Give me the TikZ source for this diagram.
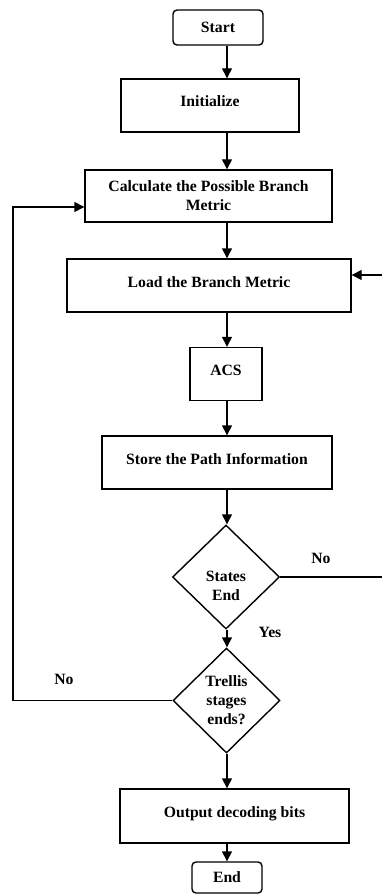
\documentclass[tikz,border=0pt]{standalone}
\usepackage{fontspec}
\setmainfont{Liberation Serif}
\usetikzlibrary{arrows.meta,shapes.geometric}

\begin{document}
\begin{tikzpicture}[x=1pt, y=-1pt, line width=1.4pt,
    every node/.style={font=\fontsize{15.7}{19}\selectfont\bfseries, inner sep=0pt},
    procbox/.style={draw, rectangle, minimum height=53pt, text height=28pt, text depth=25pt},
    termbox/.style={draw, rectangle, rounded corners=4pt},
    decbox/.style={draw, diamond, aspect=1, minimum width=107pt, minimum height=104pt, align=center},
    arr/.style={-{Triangle[length=10pt,width=10pt]}}]
\useasboundingbox (0,0) rectangle (382,896);
\clip (0,0) rectangle (382,896);
\node[termbox, minimum width=90pt, minimum height=35pt] (start) at (218,27.5) {Start};
\node[procbox, minimum width=178pt] (init) at (210,105.5) {Initialize};
\node[draw, minimum width=247pt, minimum height=52pt, align=center] (calc) at (208.5,196) {Calculate the Possible Branch\\Metric};
\node[procbox, minimum width=284pt] (load) at (209,285.5) {Load the Branch Metric};
\node[procbox, minimum width=72pt] (acs) at (226,374) {ACS};
\node[procbox, minimum width=230pt] (store) at (217,462.5) {Store the Path Information};
\node[decbox] (states) at (226,577) {\rule{0pt}{28pt}States\\End};
\node[decbox, minimum height=105pt] (trellis) at (226.5,700.5) {Trellis\\stages\\ends?};
\node[procbox, minimum width=229pt, minimum height=54pt] (output) at (234.5,816) {Output decoding bits};
\node[termbox, minimum width=70pt, minimum height=31pt] (stop) at (227,877.5) {End};
\coordinate (ax) at (227,0);
\foreach \a/\b in {start/init, init/calc, calc/load, load/acs, acs/store, store/states, states/trellis, trellis/output, output/stop}
  \draw[arr] (\a.south -| ax) -- (\b.north -| ax);
\coordinate (noR) at (392,275);
\coordinate (noL) at (13,207);
\draw[arr] (states.east) -| (noR) -- (noR -| load.east);
\draw[arr] (trellis.west) -| (noL) -- (noL -| calc.west);
\node (noRlbl) at (321,558) {No};
\node (yeslbl) at (270,632) {Yes};
\node (noLlbl) at (64,679) {No};
\end{tikzpicture}
\end{document}
